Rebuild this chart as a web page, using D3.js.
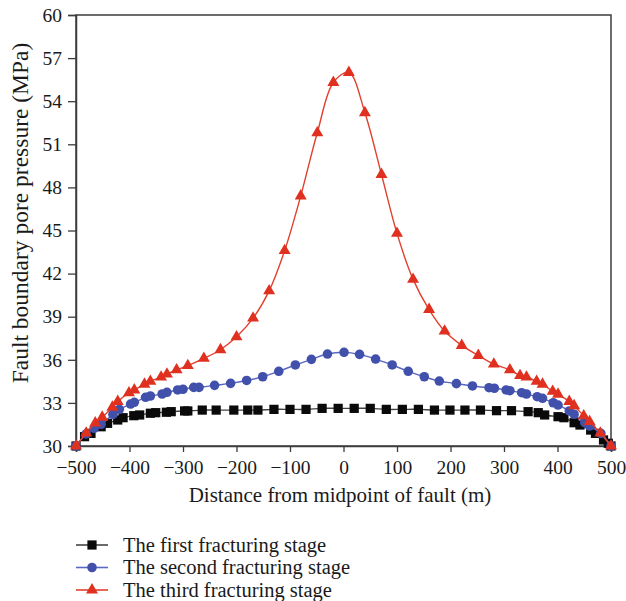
<!DOCTYPE html>
<html>
<head>
<meta charset="utf-8">
<script src="https://cdn.jsdelivr.net/npm/d3@7"></script>
<style>
  body { margin: 0; background: #fff; }
  svg text { font-family: "Liberation Serif", "DejaVu Serif", serif; fill: #1a1a1a; }
</style>
</head>
<body>
<svg id="chart" width="626" height="601"></svg>
<script>
// Pore pressure along the fault boundary (MPa) for three fracturing stages
const firstX = [-500, -484, -472, -453, -441, -422, -412, -392, -381, -361, -351, -331, -322, -297, -291, -264, -238, -205, -179, -160, -130, -100, -70, -40, -10, 20, 50, 80, 110, 140, 170, 199, 227, 256, 286, 314, 345, 364, 376, 401, 412, 431, 442, 462, 471, 486, 495, 500];
const firstY = [30.0, 30.65, 30.88, 31.34, 31.58, 31.81, 31.97, 32.11, 32.16, 32.28, 32.32, 32.35, 32.39, 32.44, 32.44, 32.5, 32.5, 32.5, 32.5, 32.5, 32.55, 32.55, 32.55, 32.62, 32.62, 32.62, 32.62, 32.55, 32.55, 32.55, 32.5, 32.5, 32.5, 32.5, 32.46, 32.46, 32.39, 32.32, 32.16, 32.04, 31.97, 31.62, 31.46, 31.11, 30.88, 30.42, 30.19, 30.0];

const secondX = [-500, -481, -466, -453, -431, -419, -398, -391, -370, -361, -339, -330, -310, -300, -280, -270, -241, -211, -181, -151, -121, -90, -60, -30, 1, 30, 60, 91, 121, 151, 179, 211, 241, 272, 282, 304, 311, 333, 342, 362, 372, 392, 401, 422, 431, 451, 460, 481, 500];
const secondY = [30.0, 30.84, 31.23, 31.51, 32.2, 32.55, 32.92, 33.04, 33.39, 33.48, 33.62, 33.74, 33.9, 33.95, 34.08, 34.08, 34.22, 34.36, 34.56, 34.82, 35.2, 35.64, 36.03, 36.4, 36.52, 36.38, 36.05, 35.64, 35.2, 34.82, 34.52, 34.34, 34.18, 34.06, 34.02, 33.9, 33.85, 33.71, 33.62, 33.43, 33.32, 33.01, 32.85, 32.44, 32.21, 31.62, 31.39, 30.88, 30.0];

const thirdX = [-500, -481, -464, -451, -432, -422, -401, -391, -372, -361, -341, -330, -312, -291, -261, -230, -200, -169, -139, -110, -80, -49, -19, 10, 40, 71, 100, 130, 160, 189, 221, 252, 281, 311, 330, 342, 361, 372, 391, 401, 422, 431, 449, 460, 480, 500];
const thirdY = [30.0, 30.9, 31.6, 32.0, 32.7, 33.1, 33.7, 33.9, 34.3, 34.5, 34.8, 35.0, 35.3, 35.6, 36.1, 36.7, 37.6, 38.9, 40.8, 43.6, 47.4, 51.8, 55.3, 56.0, 53.2, 48.9, 44.8, 41.6, 39.5, 38.0, 37.0, 36.3, 35.7, 35.3, 34.9, 34.8, 34.5, 34.3, 33.8, 33.6, 33.1, 32.8, 32.1, 31.7, 30.9, 30.0];

const seriesNames = ["The first fracturing stage", "The second fracturing stage", "The third fracturing stage"];
const xTicks = [-500, -400, -300, -200, -100, 0, 100, 200, 300, 400, 500];
const yTicks = [30, 33, 36, 39, 42, 45, 48, 51, 54, 57, 60];

const series = [
  { name: seriesNames[0], xs: firstX, ys: firstY, symbol: d3.symbolSquare, size: 85, fill: "#0a0a0a", line: "#444444" },
  { name: seriesNames[1], xs: secondX, ys: secondY, symbol: d3.symbolCircle, size: 72, fill: "#4150ab", line: "#5867c2" },
  { name: seriesNames[2], xs: thirdX, ys: thirdY, symbol: d3.symbolTriangle, size: 62, fill: "#e0301f", line: "#e2402f" }
];

const svg = d3.select("#chart");
const plotLeft = 76, plotRight = 611, plotTop = 15, plotBottom = 446;

const x = d3.scaleLinear().domain([-500, 500]).range([plotLeft, plotRight]);
const y = d3.scaleLinear().domain([30, 60]).range([plotBottom, plotTop]);

// Frame
svg.append("rect")
  .attr("x", plotLeft).attr("y", plotTop)
  .attr("width", plotRight - plotLeft).attr("height", plotBottom - plotTop)
  .attr("fill", "none").attr("stroke", "#3c3c3c").attr("stroke-width", 1.5);

// Axes
const xAxis = svg.append("g")
  .attr("transform", `translate(0,${plotBottom})`)
  .call(d3.axisBottom(x).tickValues(xTicks).tickSize(6).tickPadding(8).tickFormat(d3.format("d")));
const yAxis = svg.append("g")
  .attr("transform", `translate(${plotLeft},0)`)
  .call(d3.axisLeft(y).tickValues(yTicks).tickSize(8).tickPadding(6).tickFormat(d3.format("d")));

[xAxis, yAxis].forEach(g => {
  g.select(".domain").attr("stroke", "#3c3c3c").attr("stroke-width", 1.5);
  g.selectAll(".tick line").attr("stroke", "#3c3c3c").attr("stroke-width", 1.3);
  g.selectAll(".tick text").attr("font-size", 19.5).attr("font-family", "Liberation Serif, serif").attr("fill", "#1a1a1a");
});

// Axis titles
svg.append("text")
  .attr("x", 340).attr("y", 502)
  .attr("text-anchor", "middle").attr("font-size", 21)
  .text("Distance from midpoint of fault (m)");
svg.append("text")
  .attr("transform", "translate(28,213) rotate(-90)")
  .attr("text-anchor", "middle").attr("font-size", 23.5)
  .text("Fault boundary pore pressure (MPa)");

// Curves and markers
const line = d3.line()
  .x(d => x(d[0])).y(d => y(d[1]))
  .curve(d3.curveCatmullRom.alpha(0.5));

const plot = svg.append("g");
series.forEach(s => {
  const pts = s.xs.map((v, i) => [v, s.ys[i]]);
  plot.append("path")
    .datum(pts)
    .attr("d", line)
    .attr("fill", "none")
    .attr("stroke", s.line)
    .attr("stroke-width", 1.4);
  plot.selectAll(null)
    .data(pts)
    .enter().append("path")
    .attr("d", d3.symbol().type(s.symbol).size(s.size))
    .attr("transform", d => `translate(${x(d[0])},${y(d[1])})`)
    .attr("fill", s.fill);
});

// Legend
const legend = svg.append("g");
series.forEach((s, i) => {
  const ly = 545 + i * 22.5;
  legend.append("line")
    .attr("x1", 76).attr("x2", 108).attr("y1", ly).attr("y2", ly)
    .attr("stroke", s.line).attr("stroke-width", 1.6);
  legend.append("path")
    .attr("d", d3.symbol().type(s.symbol).size(s.size))
    .attr("transform", `translate(92,${ly})`)
    .attr("fill", s.fill);
  legend.append("text")
    .attr("x", 123).attr("y", ly + 6.5)
    .attr("font-size", 20.5)
    .text(s.name);
});
</script>
</body>
</html>
